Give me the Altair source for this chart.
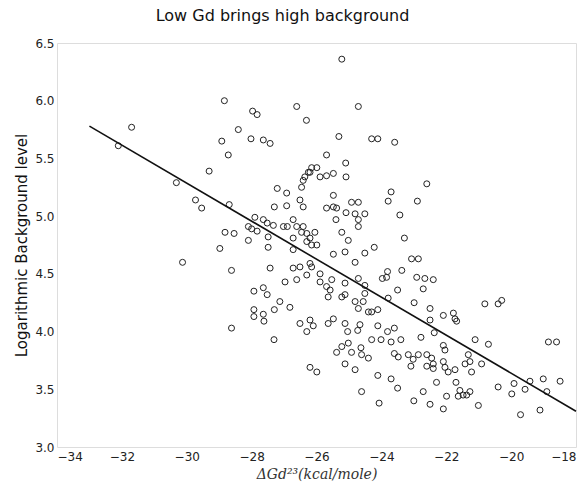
import altair as alt
import pandas as pd

# Scatter values
dg = [-25.22, -28.84, -27.97, -27.83, -26.61, -26.31, -24.71, -31.70, -28.41, -28.92,
      -28.02, -27.64, -27.43, -32.11, -28.72, -25.31, -24.30, -24.11, -23.59, -25.69,
      -25.10, -29.31, -30.32, -26.25, -26.15, -26.41, -26.46, -27.21, -26.92, -29.73,
      -29.54, -28.69, -27.30, -26.92, -26.51, -26.41, -25.09, -25.99, -26.20, -26.36,
      -25.89, -25.69, -25.48, -22.60, -23.70, -23.79, -22.89, -25.48, -25.69, -25.48,
      -25.38, -24.92, -24.71, -25.09, -24.81, -24.51, -24.71, -24.71, -25.40, -23.43,
      -23.29, -25.22, -25.02, -25.12, -24.22, -24.51, -25.48, -26.05, -26.30, -26.20,
      -26.30, -26.15, -25.99, -23.07, -22.86, -27.90, -27.64, -27.52, -27.33, -26.72,
      -27.02, -26.90, -28.10, -28.00, -27.83, -28.82, -28.54, -26.61, -26.41, -26.46,
      -27.49, -27.49, -28.10, -28.98, -26.72, -26.72, -24.81, -23.81, -23.37, -23.97,
      -23.84, -22.91, -22.66, -22.40, -22.71, -26.15, -26.30, -25.89, -25.89, -25.53,
      -25.69, -25.58, -25.12, -24.71, -24.51, -23.50, -25.64, -25.22, -25.12, -24.81,
      -24.56, -24.51, -24.71, -24.40, -24.30, -24.11, -23.79, -22.99, -22.50, -22.50,
      -26.20, -26.10, -26.30, -25.64, -25.48, -25.12, -25.04, -24.66, -24.73, -24.11,
      -23.81, -23.60, -24.30, -24.01, -23.70, -23.40, -22.78, -22.37, -25.02, -25.22,
      -25.38, -24.92, -24.63, -24.61, -24.40, -23.60, -23.48, -23.17, -23.02, -22.86,
      -22.60, -22.45, -23.09, -22.60, -22.40, -22.40, -25.12, -24.81, -26.20, -25.99,
      -24.11, -23.70, -23.50, -22.30, -24.61, -22.71, -23.00, -22.50, -24.07, -30.13,
      -28.62, -27.43, -26.72, -26.51, -26.20, -26.97, -26.61, -27.93, -27.64, -27.52,
      -27.13, -27.30, -26.82, -27.93, -27.93, -27.64, -27.62, -26.51, -28.62, -27.31,
      -20.81, -20.40, -20.29, -22.09, -21.78, -21.73, -21.68, -21.11, -20.70, -18.85,
      -18.60, -22.09, -22.04, -21.32, -22.09, -22.04, -21.94, -21.73, -21.42, -21.27,
      -20.91, -21.22, -21.70, -20.40, -19.91, -19.57, -19.42, -19.01, -18.49, -19.98,
      -18.90, -21.99, -21.58, -21.48, -21.37, -21.27, -21.63, -22.09, -21.01, -19.71,
      -19.11]

bg = [6.36, 6.00, 5.91, 5.88, 5.95, 5.83, 5.95, 5.77, 5.75, 5.65,
      5.67, 5.66, 5.63, 5.61, 5.53, 5.69, 5.67, 5.67, 5.64, 5.53,
      5.46, 5.39, 5.29, 5.38, 5.42, 5.31, 5.25, 5.24, 5.20, 5.14,
      5.07, 5.10, 5.08, 5.09, 5.14, 5.08, 5.34, 5.42, 5.38, 5.34,
      5.34, 5.35, 5.37, 5.28, 5.21, 5.13, 5.13, 5.18, 5.07, 5.08,
      5.07, 5.12, 5.12, 5.03, 5.02, 5.02, 4.97, 4.91, 4.97, 5.01,
      4.81, 4.86, 4.79, 4.69, 4.73, 4.68, 4.67, 4.86, 4.85, 4.81,
      4.78, 4.75, 4.75, 4.63, 4.63, 4.99, 4.97, 4.94, 4.92, 4.97,
      4.91, 4.91, 4.91, 4.89, 4.87, 4.86, 4.85, 4.91, 4.91, 4.86,
      4.82, 4.73, 4.79, 4.72, 4.81, 4.71, 4.60, 4.52, 4.53, 4.46,
      4.47, 4.47, 4.46, 4.45, 4.37, 4.56, 4.49, 4.50, 4.43, 4.45,
      4.39, 4.36, 4.42, 4.46, 4.40, 4.36, 4.30, 4.30, 4.32, 4.26,
      4.26, 4.33, 4.20, 4.17, 4.17, 4.19, 4.29, 4.25, 4.20, 4.10,
      4.10, 4.05, 4.00, 4.07, 4.11, 4.07, 4.00, 4.06, 4.01, 4.05,
      4.00, 4.03, 3.93, 3.93, 3.91, 3.93, 3.95, 3.99, 3.90, 3.87,
      3.82, 3.82, 3.86, 3.80, 3.77, 3.81, 3.78, 3.80, 3.76, 3.80,
      3.80, 3.77, 3.70, 3.70, 3.68, 3.72, 3.72, 3.67, 3.69, 3.65,
      3.62, 3.59, 3.51, 3.56, 3.48, 3.48, 3.40, 3.37, 3.38, 4.60,
      4.53, 4.55, 4.55, 4.56, 4.59, 4.43, 4.45, 4.35, 4.38, 4.32,
      4.26, 4.19, 4.21, 4.19, 4.13, 4.15, 4.09, 4.07, 4.03, 3.93,
      4.24, 4.24, 4.27, 4.14, 4.16, 4.11, 4.09, 3.93, 3.89, 3.91,
      3.91, 3.88, 3.84, 3.80, 3.74, 3.69, 3.65, 3.67, 3.72, 3.74,
      3.72, 3.65, 3.56, 3.52, 3.55, 3.50, 3.57, 3.59, 3.57, 3.46,
      3.48, 3.44, 3.49, 3.45, 3.45, 3.48, 3.44, 3.33, 3.36, 3.28,
      3.32]

# Fitted line end points
fit_x = [-33.0, -18.0]
fit_y = [5.78, 3.31]

x_ticks = [-34, -32, -30, -28, -26, -24, -22, -20, -18]
y_ticks = [3.0, 3.5, 4.0, 4.5, 5.0, 5.5, 6.0, 6.5]

pts = pd.DataFrame({"dg": dg, "bg": bg})
fit = pd.DataFrame({"dg": fit_x, "bg": fit_y})

FONT = "DejaVu Sans"

xscale = alt.Scale(domain=[-34, -18], nice=False, zero=False)
yscale = alt.Scale(domain=[3.0, 6.5], nice=False, zero=False)

xaxis = alt.Axis(values=x_ticks, format="d", title="ΔGd²³(kcal/mole)",
                 titleFont="DejaVu Serif", titleFontStyle="italic", titleFontWeight="normal",
                 titleFontSize=14, titleColor="#333333", titlePadding=5,
                 labelFont=FONT, labelFontSize=12, labelColor="#222222",
                 grid=False, domain=False, ticks=False, labelPadding=4)
yaxis = alt.Axis(values=y_ticks, format=".1f", title="Logarithmic Background level",
                 titleFont=FONT, titleFontSize=15, titleFontWeight="normal", titleColor="#111111",
                 titlePadding=5, labelFont=FONT, labelFontSize=12, labelColor="#222222",
                 grid=False, domain=False, ticks=False, labelPadding=3)

points = alt.Chart(pts).mark_point(shape="circle", filled=False, size=36,
                                   stroke="#222222", strokeWidth=1, opacity=1).encode(
    x=alt.X("dg:Q", scale=xscale, axis=xaxis),
    y=alt.Y("bg:Q", scale=yscale, axis=yaxis),
)

line = alt.Chart(fit).mark_line(color="#111111", strokeWidth=1.6).encode(
    x=alt.X("dg:Q", scale=xscale),
    y=alt.Y("bg:Q", scale=yscale),
)

chart = alt.layer(points, line).properties(
    width=519,
    height=404,
    title=alt.TitleParams("Low Gd brings high background", font=FONT, fontSize=16,
                          fontWeight="normal", color="#111111", offset=13, anchor="middle",
                          dx=-34),
    autosize=alt.AutoSizeParams(type="none"),
    padding={"left": 57, "top": 43, "right": 11, "bottom": 44},
).configure_view(stroke="#333333", strokeWidth=1.2).configure(background="white")

chart.save("out.html", embed_options={"renderer": "svg", "actions": False})
